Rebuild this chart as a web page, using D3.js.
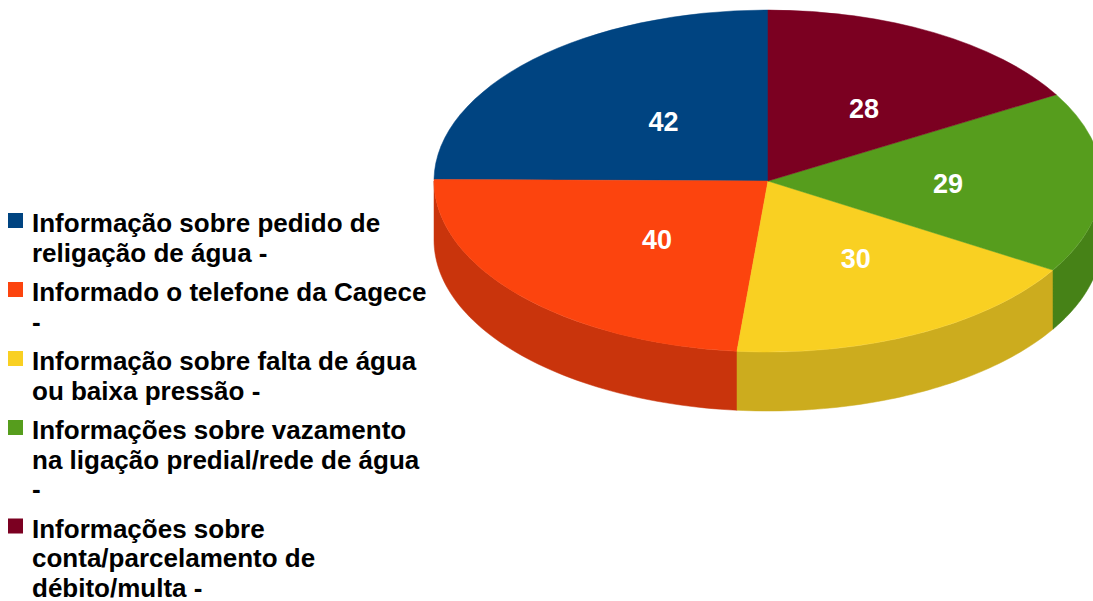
<!DOCTYPE html>
<html>
<head>
<meta charset="utf-8">
<script src="https://cdn.jsdelivr.net/npm/d3@7"></script>
<style>
  body { margin: 0; background: #fff; }
  svg { display: block; }
  text { font-family: "Liberation Sans", Arial, sans-serif; font-weight: bold; }
</style>
</head>
<body>
<svg id="chart" width="1093" height="601"></svg>
<script>
// data
var categories = [
    "Informação sobre pedido de religação de água -",
    "Informado o telefone da Cagece -",
    "Informação sobre falta de água ou baixa pressão -",
    "Informações sobre vazamento na ligação predial/rede de água -",
    "Informações sobre conta/parcelamento de débito/multa -"
];
var values = [42, 40, 30, 29, 28];
var legendLines = [
    ["Informação sobre pedido de", "religação de água -"],
    ["Informado o telefone da Cagece", "-"],
    ["Informação sobre falta de água", "ou baixa pressão -"],
    ["Informações sobre vazamento", "na ligação predial/rede de água", "-"],
    ["Informações sobre", "conta/parcelamento de", "débito/multa -"]
];
var topColors = ["#004481", "#fc440e", "#f9d022", "#569d1d", "#7b0021"];
var sideColors = ["#003466", "#c9340c", "#ccac1e", "#468217", "#5e0019"];

// pie geometry
var cx = 768, cy = 181, rx = 334, ry = 171, depth = 59;

var svg = d3.select("#chart");

var pie = d3.pie()
    .sort(null)
    .startAngle(0)
    .endAngle(-2 * Math.PI)
    .value(function (d) { return d; });

var slices = pie(values);

var arc = d3.arc().innerRadius(0).outerRadius(1);

var pieG = svg.append("g");

// side walls (only the front half is visible)
var line = d3.line();
slices.forEach(function (s, i) {
    var lo = Math.max(Math.min(s.startAngle, s.endAngle), -1.5 * Math.PI);
    var hi = Math.min(Math.max(s.startAngle, s.endAngle), -0.5 * Math.PI);
    if (lo >= hi) return;
    var steps = d3.range(0, 61).map(function (k) { return lo + (hi - lo) * k / 60; });
    var topPts = steps.map(function (t) {
        return [cx + rx * Math.sin(t), cy - ry * Math.cos(t)];
    });
    var botPts = topPts.slice().reverse().map(function (p) { return [p[0], p[1] + depth]; });
    pieG.append("path")
        .attr("d", line(topPts.concat(botPts)) + "Z")
        .attr("fill", sideColors[i])
        .attr("stroke", sideColors[i])
        .attr("stroke-width", 0.5);
});

// top faces
var topG = pieG.append("g")
    .attr("transform", "translate(" + cx + "," + cy + ") scale(" + rx + "," + ry + ")");

topG.selectAll("path")
    .data(slices)
    .enter()
    .append("path")
    .attr("d", arc)
    .attr("fill", function (d, i) { return topColors[i]; })
    .attr("stroke", function (d, i) { return topColors[i]; })
    .attr("stroke-width", 0.002);

// value labels at half radius (shifted right by the hidden key box)
var labelArc = d3.arc().innerRadius(0).outerRadius(1);
pieG.selectAll("text.val")
    .data(slices)
    .enter()
    .append("text")
    .attr("class", "val")
    .attr("x", function (d) { return cx + 13 + rx * labelArc.centroid(d)[0]; })
    .attr("y", function (d) { return cy + 2 + ry * labelArc.centroid(d)[1]; })
    .attr("text-anchor", "middle")
    .attr("dominant-baseline", "central")
    .attr("fill", "#fff")
    .attr("font-size", 27)
    .text(function (d) { return d.data; });

// legend
var legend = svg.append("g");
var lineH = 29.5, gap = 10, y0 = 232;
var y = y0;
legendLines.forEach(function (lines, i) {
    var entry = legend.append("g").attr("class", "entry").attr("data-name", categories[i]);
    entry.append("rect")
        .attr("x", 8)
        .attr("y", y - 19)
        .attr("width", 15)
        .attr("height", 15)
        .attr("fill", topColors[i]);
    lines.forEach(function (t, j) {
        entry.append("text")
            .attr("x", 32)
            .attr("y", y + j * lineH)
            .attr("font-size", 26)
            .attr("fill", "#000")
            .text(t);
    });
    y += lines.length * lineH + gap;
});
</script>
</body>
</html>
